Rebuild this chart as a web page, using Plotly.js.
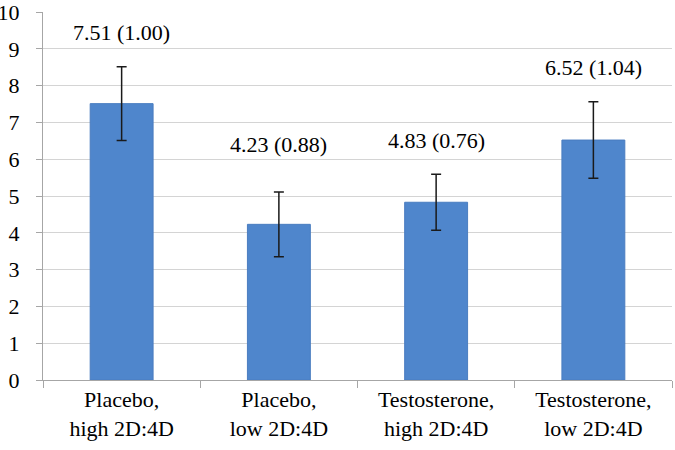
<!DOCTYPE html>
<html>
<head>
<meta charset="utf-8">
<script src="https://cdn.plot.ly/plotly-3.0.1.min.js"></script>
</head>
<body style="margin:0">
<div id="chart"></div>
<script>
const categories = ["Placebo,<br>high 2D:4D", "Placebo,<br>low 2D:4D", "Testosterone,<br>high 2D:4D", "Testosterone,<br>low 2D:4D"];
const means = [7.51, 4.23, 4.83, 6.52];
const sds = [1.00, 0.88, 0.76, 1.04];
const yTicks = [0, 1, 2, 3, 4, 5, 6, 7, 8, 9, 10];

const trace = {
  type: "bar",
  x: categories,
  y: means,
  width: 0.4,
  marker: {color: "#4F86CC", line: {color: "#4A7DC0", width: 1}},
  error_y: {type: "data", array: sds, visible: true, color: "#1a1a1a", thickness: 1.5, width: 5},
  hoverinfo: "none"
};

const labelShift = [34, 47, 34, 34];
const annotations = categories.map((c, i) => ({
  x: c, y: means[i] + sds[i], xref: "x", yref: "y",
  text: means[i].toFixed(2) + " (" + sds[i].toFixed(2) + ")",
  showarrow: false, yanchor: "middle", yshift: labelShift[i],
  font: {family: "Times New Roman", size: 22, color: "#000000"}
}));

const layout = {
  width: 675, height: 450,
  margin: {l: 43, r: 3, t: 12, b: 70},
  showlegend: false,
  xaxis: {
    type: "category",
    tickson: "boundaries",
    ticks: "outside", ticklen: 7, tickcolor: "#a6a6a6", tickwidth: 1,
    showline: true, linecolor: "#a6a6a6", linewidth: 1,
    showgrid: false, zeroline: false,
    tickfont: {family: "Times New Roman", size: 22, color: "#000000"}
  },
  yaxis: {
    range: [0, 10],
    tickvals: yTicks, ticktext: yTicks.map(String),
    ticks: "outside", ticklen: 6, tickcolor: "#a6a6a6", tickwidth: 1,
    showline: true, linecolor: "#a6a6a6", linewidth: 1,
    gridcolor: "#d4d4d4", gridwidth: 1,
    zeroline: false,
    ticklabelstandoff: 12,
    ticklabeloverflow: "allow",
    tickfont: {family: "Times New Roman", size: 22, color: "#000000"}
  },
  annotations: annotations
};

Plotly.newPlot("chart", [trace], layout, {displayModeBar: false});
</script>
</body>
</html>
